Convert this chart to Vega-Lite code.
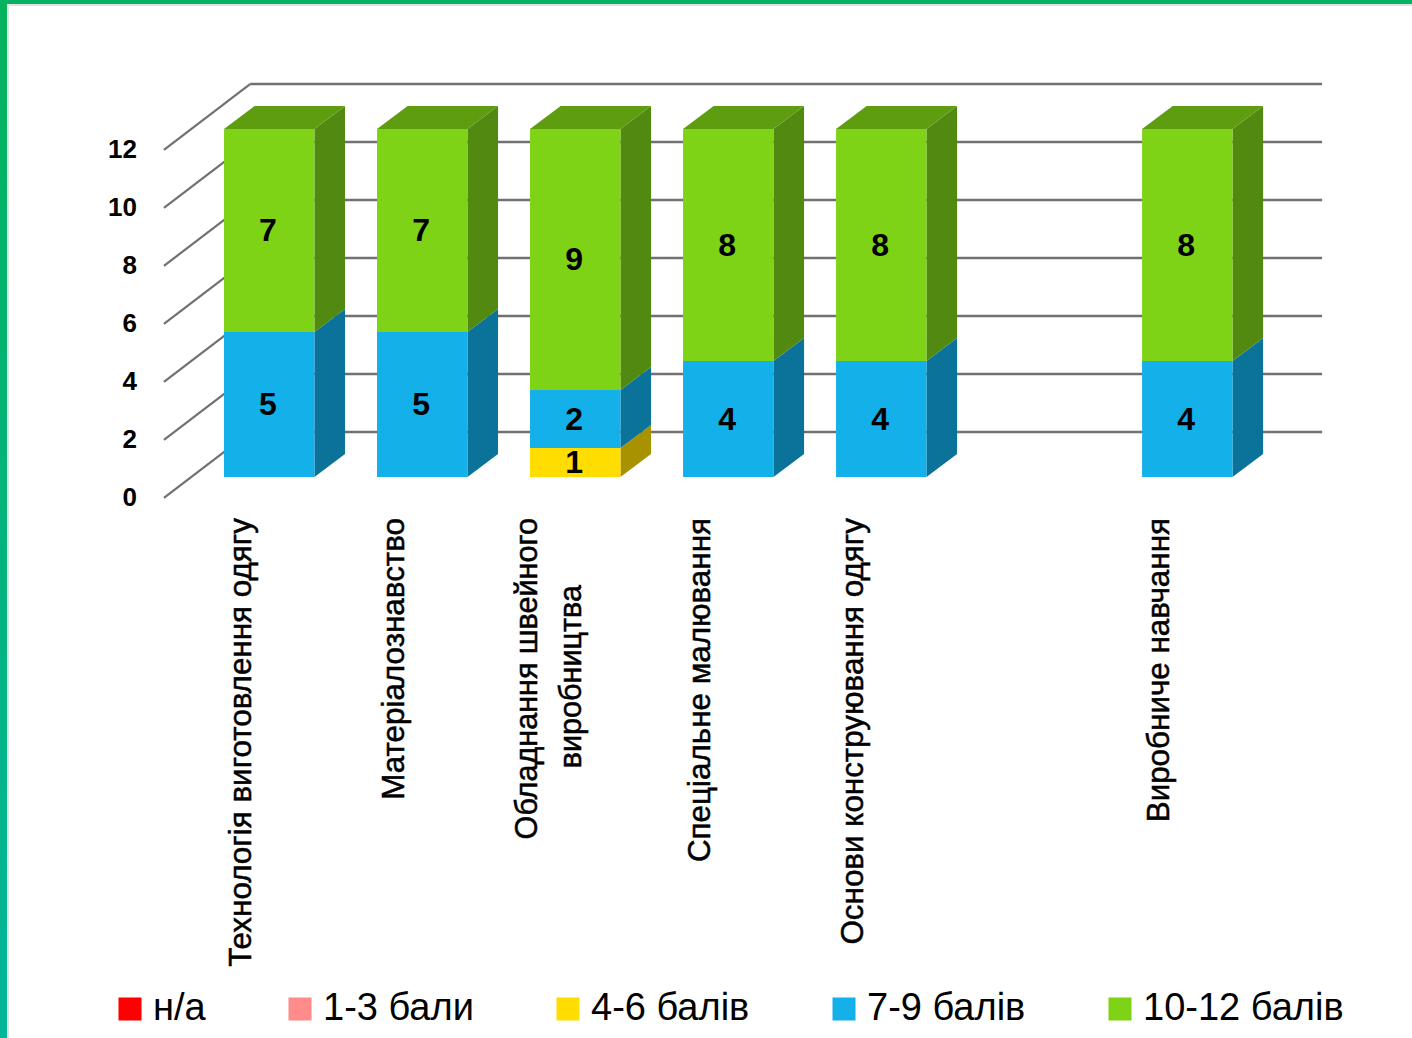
{
"$schema":"https://vega.github.io/schema/vega-lite/v6.json",
"width":1412,"height":1038,
"autosize":{"type":"fit","contains":"padding"},
"padding":0,
"background":"white",
"view":{"stroke":null},
"config":{"axis":{"disable":true}},
"datasets":{
"scores":[
{"subject":"Технологія виготовлення одягу","slot":0,"band":"7-9 балів","value":5},
{"subject":"Технологія виготовлення одягу","slot":0,"band":"10-12 балів","value":7},
{"subject":"Матеріалознавство","slot":1,"band":"7-9 балів","value":5},
{"subject":"Матеріалознавство","slot":1,"band":"10-12 балів","value":7},
{"subject":"Обладнання швейного виробництва","slot":2,"band":"4-6 балів","value":1},
{"subject":"Обладнання швейного виробництва","slot":2,"band":"7-9 балів","value":2},
{"subject":"Обладнання швейного виробництва","slot":2,"band":"10-12 балів","value":9},
{"subject":"Спеціальне малювання","slot":3,"band":"7-9 балів","value":4},
{"subject":"Спеціальне малювання","slot":3,"band":"10-12 балів","value":8},
{"subject":"Основи конструювання одягу","slot":4,"band":"7-9 балів","value":4},
{"subject":"Основи конструювання одягу","slot":4,"band":"10-12 балів","value":8},
{"subject":"Виробниче навчання","slot":6,"band":"7-9 балів","value":4},
{"subject":"Виробниче навчання","slot":6,"band":"10-12 балів","value":8}
],
"ticks":[{"tick":0},{"tick":2},{"tick":4},{"tick":6},{"tick":8},{"tick":10},{"tick":12}],
"labels":[
{"slot":0,"label":"Технологія виготовлення одягу"},
{"slot":1,"label":"Матеріалознавство"},
{"slot":3,"label":"Спеціальне  малювання"},
{"slot":4,"label":"Основи конструювання одягу"},
{"slot":6,"label":"Виробниче навчання"}
]
},
"data":{"name":"scores"},
"transform":[
{"calculate":"indexof(['4-6 балів','7-9 балів','10-12 балів'],datum.band)","as":"ord"},
{"stack":"value","groupby":["slot"],"sort":[{"field":"ord","order":"ascending"}],"as":["y0","y1"]},
{"calculate":"(datum.y0+datum.y1)/2","as":"ymid"},
{"calculate":"datum.slot-0.2974","as":"xl"},
{"calculate":"datum.slot+0.2935","as":"xr"}
],
"layer":[
{"data":{"values":[{"a":1}]},"mark":{"type":"rect","fill":"#e2e2e2"},
 "encoding":{"x":{"datum":-1.7614,"type":"quantitative","scale":{"domain":[-1.7614,7.4667],"range":[0,1412],"nice":false,"zero":false},"axis":null},"x2":{"datum":-1.7025},"y":{"datum":16.448,"type":"quantitative","scale":{"domain":[-19.345,16.448],"range":[1038,0],"nice":false,"zero":false},"axis":null},"y2":{"datum":-19.345}}},
{"data":{"values":[{"a":1}]},"mark":{"type":"rect","fill":"#e2e2e2"},
 "encoding":{"x":{"datum":-1.7614,"type":"quantitative"},"x2":{"datum":7.4667},"y":{"datum":16.448,"type":"quantitative"},"y2":{"datum":16.24}}},
{"data":{"values":[{"a":1}]},"mark":{"type":"rect","fill":"white"},
 "encoding":{"x":{"datum":-1.7025,"type":"quantitative"},"x2":{"datum":7.4667},"y":{"datum":16.24,"type":"quantitative"},"y2":{"datum":-19.345}}},
{"data":{"values":[{"a":1}]},"mark":{"type":"rect","fill":{"gradient":"linear","x1":0,"y1":0,"x2":0,"y2":1,"stops":[{"offset":0,"color":"#05B25C"},{"offset":1,"color":"#02B59A"}]}},
 "encoding":{"x":{"datum":-1.7614,"type":"quantitative"},"x2":{"datum":-1.7157},"y":{"datum":16.448,"type":"quantitative"},"y2":{"datum":-19.345}}},
{"data":{"values":[{"a":1}]},"mark":{"type":"rect","fill":"#05B162"},
 "encoding":{"x":{"datum":-1.7614,"type":"quantitative"},"x2":{"datum":7.4667},"y":{"datum":16.448,"type":"quantitative"},"y2":{"datum":16.31}}},
{"data":{"name":"ticks"},
 "transform":[{"calculate":"datum.tick+1.55","as":"yb"},{"calculate":"-0.127","as":"xa"},{"calculate":"6.879","as":"xz"}],
 "mark":{"type":"rule","stroke":"#717171","strokeWidth":2.4},
 "encoding":{"x":{"field":"xa","type":"quantitative"},"x2":{"field":"xz"},"y":{"field":"yb","type":"quantitative"}}},
{"data":{"name":"ticks"},
 "transform":[{"calculate":"datum.tick+1.55","as":"yb"},{"calculate":"datum.tick-0.72","as":"yf"},{"calculate":"-0.127","as":"xa"},{"calculate":"-0.69","as":"xf"}],
 "mark":{"type":"rule","stroke":"#717171","strokeWidth":2.2},
 "encoding":{"x":{"field":"xf","type":"quantitative"},"x2":{"field":"xa"},"y":{"field":"yf","type":"quantitative"},"y2":{"field":"yb"}}},
{"data":{"name":"ticks"},
 "transform":[{"calculate":"-0.866","as":"xt"}],
 "mark":{"type":"text","align":"right","baseline":"middle","font":"Liberation Sans","fontWeight":"bold","fontSize":26,"yOffset":21.5,"fill":"#000000"},
 "encoding":{"x":{"field":"xt","type":"quantitative"},"y":{"field":"tick","type":"quantitative"},"text":{"field":"tick","type":"quantitative"}}},
{"transform":[{"calculate":"[0,1]","as":"d"},{"flatten":["d"]},{"calculate":"datum.xr+datum.d*0.2","as":"xs"},{"calculate":"datum.y0+datum.d*0.793","as":"ya"},{"calculate":"datum.y1+datum.d*0.793","as":"yb"},{"calculate":"datum.slot+'|'+datum.band","as":"seg"}],
 "mark":{"type":"area","orient":"vertical"},
 "encoding":{"x":{"field":"xs","type":"quantitative"},"y":{"field":"ya","type":"quantitative","stack":null},"y2":{"field":"yb"},"detail":{"field":"seg"},
 "fill":{"field":"band","type":"nominal","legend":null,"scale":{"domain":["4-6 балів","7-9 балів","10-12 балів"],"range":["#A89200","#0B7299","#528A11"]}}}},
{"transform":[{"filter":"datum.band==='10-12 балів'"},{"calculate":"[0,1]","as":"d"},{"flatten":["d"]},{"calculate":"datum.xl+datum.d*0.2","as":"xa"},{"calculate":"datum.xr+datum.d*0.2","as":"xb"},{"calculate":"datum.y1+datum.d*0.793","as":"yt"}],
 "mark":{"type":"area","orient":"horizontal","fill":"#5E9C10"},
 "encoding":{"y":{"field":"yt","type":"quantitative"},"x":{"field":"xa","type":"quantitative","stack":null},"x2":{"field":"xb"},"detail":{"field":"slot"}}},
{"mark":{"type":"rect"},
 "encoding":{"x":{"field":"xl","type":"quantitative"},"x2":{"field":"xr"},"y":{"field":"y0","type":"quantitative"},"y2":{"field":"y1"},
 "color":{"field":"band","type":"nominal","scale":{"domain":["н/а","1-3 бали","4-6 балів","7-9 балів","10-12 балів"],"range":["#FF0000","#FF8B8B","#FFDD00","#13B0EA","#7FD316"]},
 "legend":{"title":null,"orient":"none","legendX":111,"legendY":990,"direction":"horizontal","columns":5,"symbolType":"square","symbolSize":530,"symbolStrokeWidth":0,"labelFont":"Liberation Sans","labelFontSize":38,"labelColor":"#000000","columnPadding":75,"labelOffset":4,"padding":0,"labelLimit":400}}}},
{"mark":{"type":"text","align":"center","baseline":"middle","font":"Liberation Sans","fontWeight":"bold","fontSize":32,"xOffset":-1.5,"yOffset":1,"fill":"#000000"},
 "encoding":{"x":{"field":"slot","type":"quantitative"},"y":{"field":"ymid","type":"quantitative"},"text":{"field":"value","type":"quantitative"}}},
{"data":{"name":"labels"},
 "transform":[{"calculate":"-1.414","as":"yl"}],
 "mark":{"type":"text","angle":270,"align":"right","baseline":"middle","font":"Liberation Sans","fontSize":31.4,"xOffset":-28,"fill":"#000000","stroke":"#000000","strokeWidth":0.5},
 "encoding":{"x":{"field":"slot","type":"quantitative"},"y":{"field":"yl","type":"quantitative"},"text":{"field":"label"}}},
{"data":{"values":[{"slot":2,"label":"Обладнання швейного"}]},
 "transform":[{"calculate":"-1.414","as":"yl"}],
 "mark":{"type":"text","angle":270,"align":"right","baseline":"middle","font":"Liberation Sans","fontSize":30.6,"xOffset":-48,"fill":"#000000","stroke":"#000000","strokeWidth":0.5},
 "encoding":{"x":{"field":"slot","type":"quantitative"},"y":{"field":"yl","type":"quantitative"},"text":{"field":"label"}}},
{"data":{"values":[{"slot":2,"label":"виробництва"}]},
 "transform":[{"calculate":"-1.414","as":"yl"}],
 "mark":{"type":"text","angle":270,"align":"right","baseline":"middle","font":"Liberation Sans","fontSize":30.6,"xOffset":-4,"yOffset":67,"fill":"#000000","stroke":"#000000","strokeWidth":0.5},
 "encoding":{"x":{"field":"slot","type":"quantitative"},"y":{"field":"yl","type":"quantitative"},"text":{"field":"label"}}}
]
}
